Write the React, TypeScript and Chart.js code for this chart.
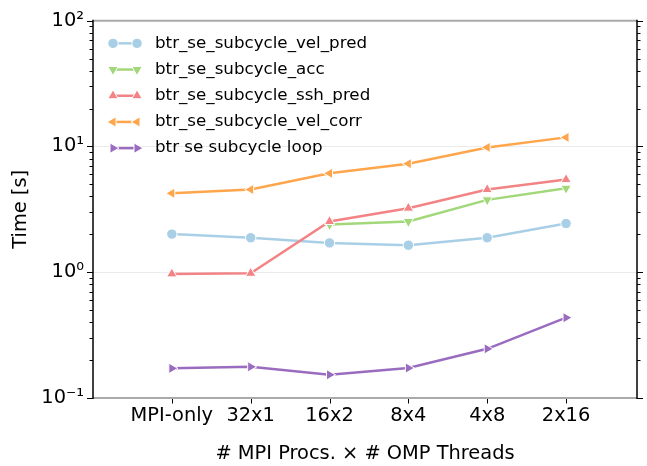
import React, { useEffect, useRef } from "react";
import { Chart, registerables } from "chart.js";

Chart.register(...registerables);

const categories = ["MPI-only", "32x1", "16x2", "8x4", "4x8", "2x16"];
const seriesNames = [
  "btr_se_subcycle_vel_pred",
  "btr_se_subcycle_acc",
  "btr_se_subcycle_ssh_pred",
  "btr_se_subcycle_vel_corr",
  "btr se subcycle loop",
];
const velPred = [2.01, 1.88, 1.71, 1.64, 1.88, 2.44];
const acc: (number | null)[] = [null, null, 2.39, 2.53, 3.76, 4.65];
const sshPred = [0.97, 0.98, 2.53, 3.23, 4.54, 5.45];
const velCorr = [4.24, 4.54, 6.11, 7.29, 9.82, 11.8];
const loop = [0.172, 0.177, 0.153, 0.173, 0.246, 0.435];
const yMajorTicks = [0.1, 1, 10, 100];
const yTickLabels = ["10⁻¹", "10⁰", "10¹", "10²"];

const seriesValues = [velPred, acc, sshPred, velCorr, loop];
const seriesColors = ["#a9cfe6", "#a2d77a", "#f28486", "#ffa54c", "#9a6cbf"];
const seriesStyles = ["circle", "triangle", "triangle", "triangle", "triangle"];
const seriesRotations = [0, 180, 0, 270, 90];
const seriesRadius = [5.2, 6, 6, 6, 6];

const FONT = "'DejaVu Sans', sans-serif";

const yTickValues: number[] = [];
[0.1, 1, 10].forEach((d) => {
  for (let k = 1; k <= 9; k++) yTickValues.push(k * d);
});
yTickValues.push(100);

const isMajor = (v: number) => {
  const l = Math.log10(v);
  return Math.abs(l - Math.round(l)) < 1e-9;
};

function drawMarker(
  ctx: CanvasRenderingContext2D,
  style: string,
  rotation: number,
  x: number,
  y: number,
  r: number,
  fill: string
) {
  ctx.save();
  ctx.translate(x, y);
  ctx.rotate((rotation * Math.PI) / 180);
  ctx.beginPath();
  if (style === "circle") {
    ctx.arc(0, 0, r, 0, Math.PI * 2);
  } else {
    for (let k = 0; k < 3; k++) {
      const a = (k * 2 * Math.PI) / 3;
      const px = Math.sin(a) * r;
      const py = -Math.cos(a) * r;
      if (k === 0) ctx.moveTo(px, py);
      else ctx.lineTo(px, py);
    }
    ctx.closePath();
  }
  ctx.fillStyle = fill;
  ctx.fill();
  ctx.strokeStyle = "#ffffff";
  ctx.lineWidth = 1;
  ctx.stroke();
  ctx.restore();
}

const legendPlugin = {
  id: "customLegend",
  afterDatasetsDraw(chart: any) {
    const ctx: CanvasRenderingContext2D = chart.ctx;
    const a = chart.chartArea;
    ctx.save();
    chart.data.datasets.forEach((ds: any, i: number) => {
      const y = a.top + 22.7 + i * 26.2;
      const x0 = a.left + 20;
      const x1 = a.left + 44;
      ctx.strokeStyle = seriesColors[i];
      ctx.lineWidth = 2.5;
      ctx.beginPath();
      ctx.moveTo(x0, y);
      ctx.lineTo(x1, y);
      ctx.stroke();
      drawMarker(ctx, seriesStyles[i], seriesRotations[i], x0, y, seriesRadius[i], seriesColors[i]);
      drawMarker(ctx, seriesStyles[i], seriesRotations[i], x1, y, seriesRadius[i], seriesColors[i]);
      ctx.fillStyle = "#000";
      ctx.font = `16.7px ${FONT}`;
      ctx.textBaseline = "middle";
      ctx.textAlign = "left";
      ctx.fillText(ds.label, a.left + 62, y);
    });
    ctx.restore();
  },
};

const framePlugin = {
  id: "frame",
  afterDraw(chart: any) {
    const ctx: CanvasRenderingContext2D = chart.ctx;
    const a = chart.chartArea;
    const ys = chart.scales.y;
    const xs = chart.scales.x;
    const line = (x1: number, y1: number, x2: number, y2: number) => {
      ctx.beginPath();
      ctx.moveTo(x1, y1);
      ctx.lineTo(x2, y2);
      ctx.stroke();
    };
    ctx.save();
    ctx.strokeStyle = "#000";
    ctx.lineWidth = 1;
    yTickValues.forEach((v) => {
      const p = Math.round(ys.getPixelForValue(v)) + 0.5;
      const len = isMajor(v) ? 6 : 3.5;
      line(a.left - len, p, a.left, p);
      line(a.right, p, a.right + len, p);
    });
    categories.forEach((_, i) => {
      const px = Math.round(xs.getPixelForValue(i)) + 0.5;
      line(px, a.bottom, px, a.bottom + 5.5);
    });
    ctx.strokeStyle = "#aaaaaa";
    ctx.lineWidth = 2;
    line(a.left, a.top, a.right, a.top);
    line(a.left, a.bottom, a.right, a.bottom);
    ctx.strokeStyle = "#000";
    ctx.lineWidth = 1.5;
    line(a.left, a.top - 1, a.left, a.bottom + 1);
    line(a.right, a.top - 1, a.right, a.bottom + 1);
    ctx.restore();
  },
};

export default function App() {
  const ref = useRef<HTMLCanvasElement | null>(null);
  useEffect(() => {
    if (!ref.current) return;
    const datasets = seriesNames.map((name, i) => ({
      label: name,
      data: seriesValues[i].map((v, j) => ({ x: j, y: v })),
      borderColor: seriesColors[i],
      backgroundColor: seriesColors[i],
      borderWidth: 2.5,
      pointStyle: seriesStyles[i],
      pointRotation: seriesRotations[i],
      pointRadius: seriesRadius[i],
      pointBackgroundColor: seriesColors[i],
      pointBorderColor: "#ffffff",
      pointBorderWidth: 1,
      spanGaps: false,
      tension: 0,
      order: seriesNames.length - i,
    }));
    const chart = new Chart(ref.current, {
      type: "line",
      data: { datasets },
      plugins: [legendPlugin, framePlugin],
      options: {
        animation: false,
        responsive: false,
        devicePixelRatio: 1,
        layout: { padding: { top: 19, right: 10, left: 0, bottom: 0 } },
        plugins: { legend: { display: false }, tooltip: { enabled: false } },
        scales: {
          x: {
            type: "linear",
            min: -1,
            max: 5.9,
            afterBuildTicks: (s: any) => {
              s.ticks = categories.map((_, i) => ({ value: i }));
            },
            afterFit: (s: any) => {
              s.height = 68;
            },
            ticks: {
              autoSkip: false,
              maxRotation: 0,
              padding: 6,
              color: "#000",
              font: { family: FONT, size: 19.4 },
              callback: (v: any) => categories[v] ?? "",
            },
            grid: { display: false, drawTicks: false },
            border: { display: false },
            title: {
              display: true,
              text: "# MPI Procs. × # OMP Threads",
              color: "#000",
              font: { family: FONT, size: 19.4 },
              padding: { top: 0, bottom: 0 },
            },
          },
          y: {
            type: "logarithmic",
            min: 0.1,
            max: 100,
            afterBuildTicks: (s: any) => {
              s.ticks = yTickValues.map((v) => ({ value: v, major: isMajor(v) }));
            },
            afterFit: (s: any) => {
              s.width = 93;
            },
            ticks: {
              autoSkip: false,
              padding: 9,
              color: "#000",
              font: { family: FONT, size: 19.4 },
              callback: (v: any) => {
                const idx = yMajorTicks.findIndex((m) => Math.abs(m - v) < 1e-9);
                return idx >= 0 ? yTickLabels[idx] : "";
              },
            },
            grid: {
              drawTicks: false,
              lineWidth: 1,
              color: (c: any) =>
                c.tick && isMajor(c.tick.value) ? "#ebebeb" : "rgba(0,0,0,0)",
            },
            border: { display: false },
            title: {
              display: true,
              text: "Time [s]",
              color: "#000",
              font: { family: FONT, size: 19.4 },
              padding: { top: 9, bottom: 0 },
            },
          },
        },
      } as any,
    });
    return () => chart.destroy();
  }, []);
  return (
    <div style={{ position: "fixed", left: 0, top: 0, width: 647, height: 466, background: "#fff" }}>
      <canvas ref={ref} width={647} height={466} style={{ width: 647, height: 466 }} />
    </div>
  );
}
